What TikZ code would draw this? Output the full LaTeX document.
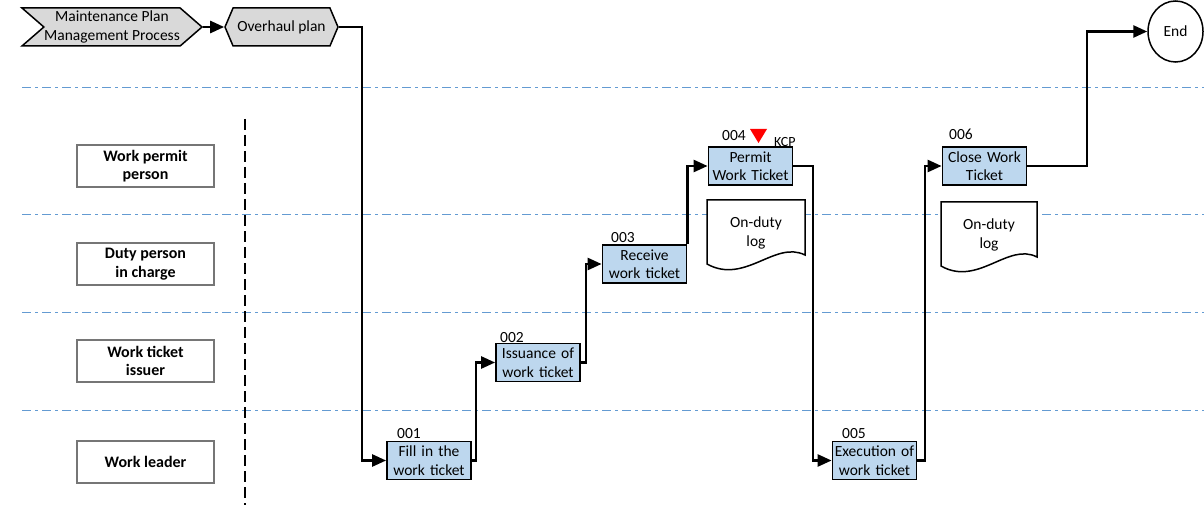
\documentclass[tikz,border=0pt]{standalone}
\usepackage{fontspec}
\setmainfont{Carlito}
\usetikzlibrary{arrows.meta,shapes.symbols,shapes.geometric}
\definecolor{taskblue}{RGB}{189,215,238}
\definecolor{laneblue}{RGB}{100,155,210}
\definecolor{chevgray}{RGB}{217,217,217}
\definecolor{rolegray}{RGB}{118,118,118}
\begin{document}
\begin{tikzpicture}[x=1pt,y=-1pt,
  font=\fontsize{15.5}{18.5}\selectfont,
  flow/.style={line width=2.6pt,-{Triangle[length=14pt,width=12pt]}},
  lanesep/.style={draw=laneblue,line width=1pt,dash pattern=on 9pt off 4pt on 3pt off 4pt},
  task/.style={draw,line width=1.8pt,fill=taskblue,minimum width=82pt,minimum height=38pt,
    text width=84pt,align=center,inner sep=0pt},
  role/.style={draw=rolegray,line width=1.5pt,minimum width=137pt,minimum height=42pt,
    align=center,inner sep=0pt,font=\fontsize{16}{18.5}\selectfont\bfseries},
  tasknum/.style={anchor=base west,inner sep=0pt},
  doc/.style={draw,line width=1.5pt,fill=white},
  proc/.style={signal,draw,fill=chevgray,line width=1.5pt,minimum height=38pt,
    inner sep=0pt,align=center}
]
\useasboundingbox (0,0) rectangle (1204,505);

% swimlane separators
\draw[lanesep] (22,88) -- (1204,88);
\draw[lanesep] (22,214) -- (1204,214);
\draw[lanesep] (22,312) -- (1204,312);
\draw[lanesep] (22,410) -- (1204,410);
\draw[line width=1.5pt,dash pattern=on 11pt off 5pt] (245,119) -- (245,505);

% role labels
\node[role] (r1) at (145.5,166) {Work permit\\person};
\node[role] (r2) at (145.5,264) {Duty person\\in charge};
\node[role] (r3) at (145.5,361) {Work ticket\\issuer};
\node[role] (r4) at (145.5,462) {Work leader};

% upstream processes
\node[proc,signal from=west,signal to=east,signal pointer angle=82,minimum width=180pt]
  (mpm) at (112,27) {Maintenance Plan\\Management Process};
\node[proc,signal to=west and east,signal pointer angle=134,minimum width=113pt]
  (oh) at (281.5,27) {Overhaul plan};

% end event
\node[draw,ellipse,line width=1.5pt,minimum width=55pt,minimum height=61pt,inner sep=0pt,fill=white]
  (end) at (1175.5,31.5) {End};

% tasks
\node[task] (t1) at (429,460.5) {Fill in the\\work ticket};
\node[task] (t2) at (538,362.5) {Issuance of\\work ticket};
\node[task] (t3) at (644.5,264) {Receive\\work ticket};
\node[task] (t4) at (750.5,166) {Permit\\Work Ticket};
\node[task] (t5) at (874.5,460.5) {Execution of\\work ticket};
\node[task] (t6) at (984.5,166) {Close Work\\Ticket};

\node[tasknum] (n1) at (397,438) {001};
\node[tasknum] (n2) at (500,342) {002};
\node[tasknum] (n3) at (611,242) {003};
\node[tasknum] (n4) at (722,141) {004};
\node[tasknum] (n5) at (842,438) {005};
\node[tasknum] (n6) at (949,140) {006};

% key control point marker
\fill[red] (750,129) -- (767,129) -- (758.5,143) -- cycle;
\node[anchor=base west,inner sep=0pt,font=\fontsize{14}{16}\selectfont] (kcp) at (774,147) {KCP};

% duty logs
\draw[doc] (707,200) -- (805,200) -- (805,255) .. controls (775,240) and (745,285) .. (707,264) -- cycle;
\node[align=center,inner sep=0pt] (log1) at (756,233) {On-duty\\log};
\draw[doc] (941,202) -- (1037,202) -- (1037,257) .. controls (1008,242) and (978,287) .. (941,266) -- cycle;
\node[align=center,inner sep=0pt] (log2) at (989,235) {On-duty\\log};

% routing columns
\coordinate (k0) at (362,0);
\coordinate (k1) at (476,0);
\coordinate (k2) at (586,0);
\coordinate (k3) at (813,0);
\coordinate (k4) at (925,0);
\coordinate (k5) at (1087,0);

% flow
\draw[flow] (mpm.east) -- (oh.west);
\draw[flow] (oh.east) -| (k0 |- t1.west) -- (t1.west);
\draw[flow] (t1.east) -| (k1 |- t2.west) -- (t2.west);
\draw[flow] (t2.east) -| (k2 |- t3.west) -- (t3.west);
\draw[flow] (t3.north east) -- (t3.north east |- t4.west) -- (t4.west);
\draw[flow] (t4.east) -| (k3 |- t5.west) -- (t5.west);
\draw[flow] (t5.east) -| (k4 |- t6.west) -- (t6.west);
\draw[flow] (t6.east) -| (k5 |- end.west) -- (end.west);
\end{tikzpicture}
\end{document}
